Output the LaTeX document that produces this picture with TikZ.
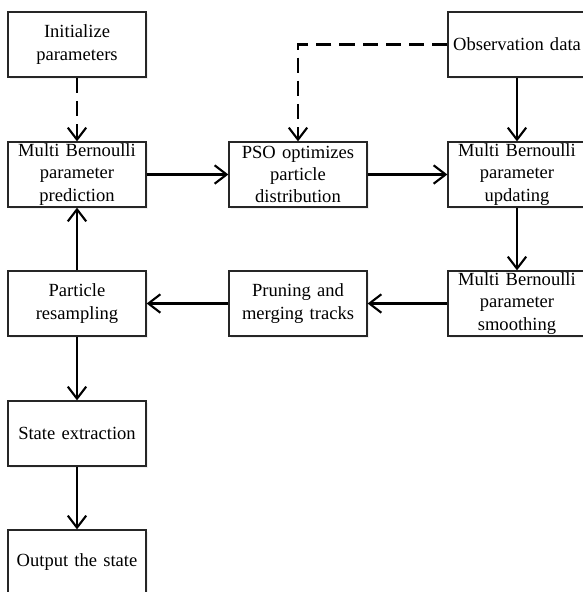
\documentclass[tikz,border=0pt]{standalone}
\usepackage{fontspec}
\setmainfont{Liberation Serif}
\usetikzlibrary{arrows.meta,shadows}
\tikzset{
  >={Straight Barb[length=3mm,width=4.6mm]},
  etape/.style={draw=black!85, line width=0.9pt, fill=white, align=center,
    minimum width=3.45cm, minimum height=1.625cm, text width=3.4cm, inner sep=0pt,
    font=\fontsize{13.2}{15.8}\selectfont,
    drop shadow={shadow xshift=0.5mm, shadow yshift=-0.6mm, opacity=0.12}},
  fleche/.style={->, line width=1.5pt},
  pointille/.style={fleche, dash pattern=on 3.8mm off 2mm},
}
\begin{document}
\begin{tikzpicture}
    \useasboundingbox (0,0) rectangle (14.575,-14.8);
    \clip (0,0) rectangle (14.575,-14.8);
    % Colonne gauche
    \node[etape] (init)     at (1.925,-1.1125)  {Initialize\\ parameters};
    \node[etape] (predict)  at (1.925,-4.3625)  {Multi Bernoulli\\ parameter\\ prediction};
    \node[etape] (resample) at (1.925,-7.5875)  {Particle\\ resampling};
    \node[etape] (extract)  at (1.925,-10.8375) {State extraction};
    \node[etape] (output)   at (1.925,-14.0625) {Output the state};
    % Colonne centrale
    \node[etape] (pso)      at (7.45,-4.3625)   {PSO optimizes\\ particle\\ distribution};
    \node[etape] (prune)    at (7.45,-7.5875)   {Pruning and\\ merging tracks};
    % Colonne droite
    \node[etape] (obs)      at (12.925,-1.1125) {Observation data};
    \node[etape] (update)   at (12.925,-4.3625) {Multi Bernoulli\\ parameter\\ updating};
    \node[etape] (smooth)   at (12.925,-7.5875) {Multi Bernoulli\\ parameter\\ smoothing};
    % Flèches
    \draw[pointille] (init) -- (predict);
    \draw[pointille] (obs.west) -| (pso.north);
    \draw[fleche] (predict) -- (pso);
    \draw[fleche] (pso) -- (update);
    \draw[fleche] (obs) -- (update);
    \draw[fleche] (update) -- (smooth);
    \draw[fleche] (smooth) -- (prune);
    \draw[fleche] (prune) -- (resample);
    \draw[fleche] (resample) -- (predict);
    \draw[fleche] (resample) -- (extract);
    \draw[fleche] (extract) -- (output);
\end{tikzpicture}
\end{document}
